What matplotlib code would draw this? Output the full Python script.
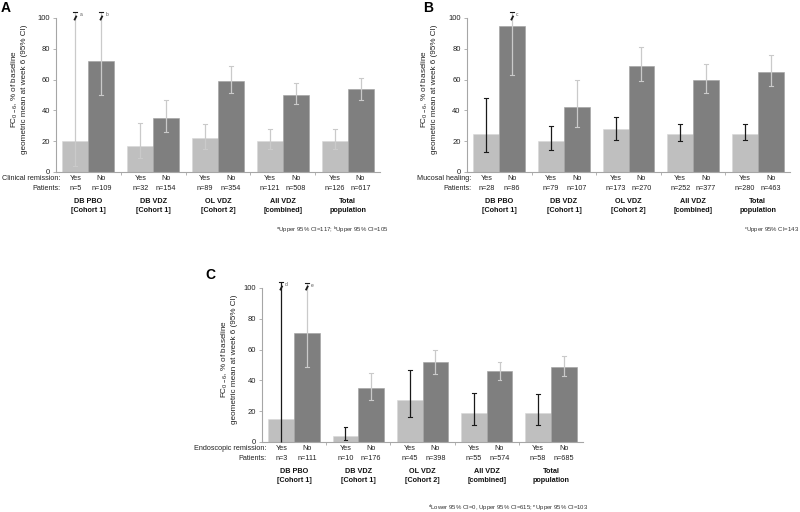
import matplotlib
matplotlib.use("Agg")
import matplotlib.pyplot as plt
import numpy as np

plt.rcParams['font.family'] = ['Liberation Sans', 'DejaVu Sans']
plt.rcParams['mathtext.default'] = 'regular'

groups = ["DB PBO\n[Cohort 1]", "DB VDZ\n[Cohort 1]", "OL VDZ\n[Cohort 2]",
          "All VDZ\n[combined]", "Total\npopulation"]

# Panel A: clinical remission
A_yes = [20, 17, 22, 20, 20]
A_no = [72, 35, 59, 50, 54]
A_yes_lo = [4, 9, 15, 15, 15]
A_yes_hi = [117, 32, 31, 28, 28]
A_no_lo = [50, 26, 51, 44, 47]
A_no_hi = [105, 47, 69, 58, 61]
A_n_yes = [5, 32, 89, 121, 126]
A_n_no = [109, 154, 354, 508, 617]
A_note_yes = ["a", "", "", "", ""]
A_note_no = ["b", "", "", "", ""]

# Panel B: mucosal healing
B_yes = [25, 20, 28, 25, 25]
B_no = [95, 42, 69, 60, 65]
B_yes_lo = [13, 14, 21, 20, 21]
B_yes_hi = [48, 30, 36, 31, 31]
B_no_lo = [63, 29, 59, 51, 56]
B_no_hi = [143, 60, 81, 70, 76]
B_n_yes = [28, 79, 173, 252, 280]
B_n_no = [86, 107, 270, 377, 463]
B_note_yes = ["", "", "", "", ""]
B_note_no = ["c", "", "", "", ""]

# Panel C: endoscopic remission
C_yes = [15, 4, 27, 19, 19]
C_no = [71, 35, 52, 46, 49]
C_yes_lo = [0, 1, 16, 11, 11]
C_yes_hi = [615, 10, 47, 32, 31]
C_no_lo = [49, 27, 44, 40, 43]
C_no_hi = [103, 45, 60, 52, 56]
C_n_yes = [3, 10, 45, 55, 58]
C_n_no = [111, 176, 398, 574, 685]
C_note_yes = ["d", "", "", "", ""]
C_note_no = ["e", "", "", "", ""]

YES_C = '#bfbfbf'
NO_C = '#7f7f7f'
ERR_GRAY = '#cacaca'
ERR_DARK = '#1a1a1a'
AX_C = '#a6a6a6'
BREAK = 104
FS = 5.2

fig = plt.figure(figsize=(8, 5.12), dpi=100)
W, H = 800, 512


def add_panel(rect_px, letter, letter_xy, ylabel_x, rowlabel, yes, no, ylo, yhi, nlo, nhi,
              nyes, nno, note_yes, note_no, yes_err_c, foot, foot_xy):
    l, t, r, b = rect_px
    ax = fig.add_axes([l / W, 1 - b / H, (r - l) / W, (b - t) / H])
    x = np.arange(len(groups))
    bw = 0.4
    ax.bar(x - bw / 2, yes, bw, color=YES_C, edgecolor='#d8d8d8', lw=0.4, zorder=2)
    ax.bar(x + bw / 2, no, bw, color=NO_C, edgecolor='#a0a0a0', lw=0.4, zorder=2)

    def draw_err(xs, vals, lo, hi, col, notes):
        for xi, v, lo_, hi_, nt in zip(xs, vals, lo, hi, notes):
            top = min(hi_, BREAK)
            trunc = hi_ > 100
            ax.plot([xi, xi], [lo_, top], color=col, lw=0.9, zorder=3, clip_on=False,
                    solid_capstyle='butt')
            capc = ERR_DARK if trunc else col
            cw = 0.03
            ax.plot([xi - cw, xi + cw], [top, top], color=capc, lw=0.8, zorder=4, clip_on=False)
            if lo_ > 0:
                ax.plot([xi - cw, xi + cw], [lo_, lo_], color=col, lw=0.8, zorder=3, clip_on=False)
            if trunc:
                ax.plot([xi - 0.018, xi + 0.018], [98.5, 101.5], color=ERR_DARK, lw=1.3,
                        zorder=5, clip_on=False, solid_capstyle='butt')
            if nt:
                ax.text(xi + 0.06, top - 1.5, nt, fontsize=3.5, color='#555555',
                        va='center', ha='left')

    draw_err(x - bw / 2, yes, ylo, yhi, yes_err_c, note_yes)
    draw_err(x + bw / 2, no, nlo, nhi, ERR_GRAY, note_no)

    ax.set_xlim(-0.5, len(groups) - 0.5)
    ax.set_ylim(0, 100)
    ax.set_yticks(range(0, 101, 20))
    ax.set_xticks(np.arange(0.5, len(groups) - 0.5, 1))
    ax.set_xticklabels([])
    for s in ['top', 'right']:
        ax.spines[s].set_visible(False)
    for s in ['left', 'bottom']:
        ax.spines[s].set_color(AX_C)
        ax.spines[s].set_linewidth(0.8)
    ax.tick_params(axis='y', length=2.5, width=0.6, color=AX_C, labelsize=FS + 0.3,
                   labelcolor='#222222', pad=2)
    ax.tick_params(axis='x', length=2.5, width=0.6, color=AX_C)

    hpx = b - t
    y1 = -7 / hpx
    y2 = -16 / hpx
    y3 = -34 / hpx
    tr = ax.get_xaxis_transform()
    ax.text(-0.43, y1, rowlabel, transform=tr, ha='right', va='center', fontsize=FS, color='#222222')
    ax.text(-0.43, y2, "Patients:", transform=tr, ha='right', va='center', fontsize=FS, color='#222222')
    for i, g in enumerate(groups):
        ax.text(i - bw / 2, y1, "Yes", transform=tr, ha='center', va='center', fontsize=FS, color='#222222')
        ax.text(i + bw / 2, y1, "No", transform=tr, ha='center', va='center', fontsize=FS, color='#222222')
        ax.text(i - bw / 2, y2, f"n={nyes[i]}", transform=tr, ha='center', va='center', fontsize=FS, color='#222222')
        ax.text(i + bw / 2, y2, f"n={nno[i]}", transform=tr, ha='center', va='center', fontsize=FS, color='#222222')
        ax.text(i, y3, g, transform=tr, ha='center', va='center', fontsize=FS, fontweight='bold',
                color='#111111', linespacing=1.5)

    fig.text(letter_xy[0] / W, 1 - letter_xy[1] / H, letter, fontsize=10, fontweight='bold',
             ha='left', va='center')
    fig.text(ylabel_x / W, 1 - ((t + b) / 2 - 6) / H,
             "FC$_{0-6}$, % of baseline\ngeometric mean at week 6 (95% CI)",
             rotation=90, ha='center', va='center', fontsize=FS + 0.7, color='#222222',
             linespacing=1.2)
    fig.text(foot_xy[0] / W, 1 - foot_xy[1] / H, foot, fontsize=4.3, ha='right', va='center',
             color='#333333')
    return ax


add_panel((56, 18, 380, 172), "A", (1, 8), 19, "Clinical remission:",
          A_yes, A_no, A_yes_lo, A_yes_hi, A_no_lo, A_no_hi, A_n_yes, A_n_no,
          A_note_yes, A_note_no, ERR_GRAY,
          "$^{a}$Upper 95% CI=117; $^{b}$Upper 95% CI=105", (389, 230))
add_panel((467, 18, 790, 172), "B", (423, 8), 429, "Mucosal healing:",
          B_yes, B_no, B_yes_lo, B_yes_hi, B_no_lo, B_no_hi, B_n_yes, B_n_no,
          B_note_yes, B_note_no, ERR_DARK,
          "$^{c}$Upper 95% CI=143", (799, 230))
add_panel((262, 288, 583, 442), "C", (205, 275), 229, "Endoscopic remission:",
          C_yes, C_no, C_yes_lo, C_yes_hi, C_no_lo, C_no_hi, C_n_yes, C_n_no,
          C_note_yes, C_note_no, ERR_DARK,
          "$^{d}$Lower 95% CI=0, Upper 95% CI=615; $^{e}$Upper 95% CI=103", (588, 508))

fig.savefig("out.png", dpi=100, facecolor='white')
